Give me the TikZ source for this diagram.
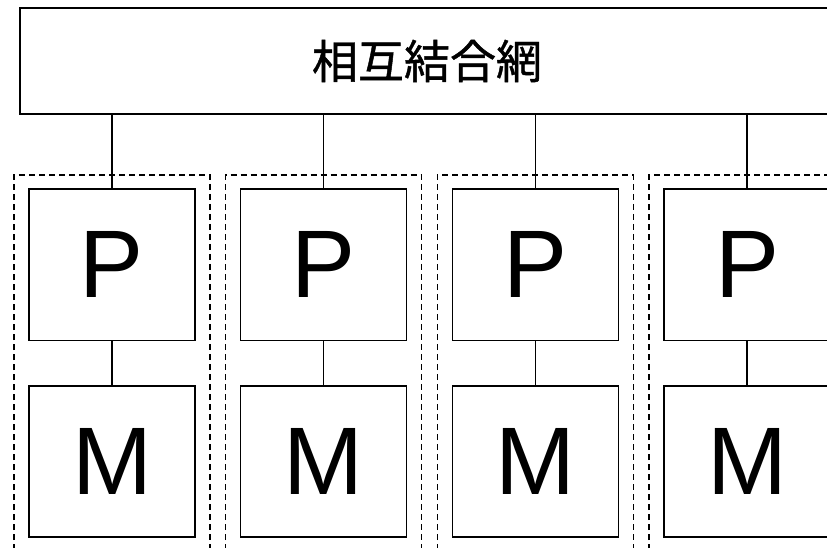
\documentclass[tikz,border=0pt]{standalone}
\usepackage{fontspec}
\setmainfont{Liberation Sans}
\newfontfamily\cjk[FakeBold=1]{Noto Sans CJK JP}
\begin{document}
\begin{tikzpicture}[x=1pt,y=-1pt,
  pmbox/.style={draw, line width=1.5pt, minimum width=166pt, minimum height=151pt, inner sep=0pt, font=\fontsize{96}{96}\selectfont},
  netbox/.style={draw, line width=2pt, minimum width=814pt, minimum height=106pt, inner sep=0pt, font=\cjk\fontsize{46}{46}\selectfont},
  group/.style={draw, dash pattern=on 6pt off 4pt, line width=1.5pt},
  link/.style={line width=1.3pt}]
\useasboundingbox (0,0) rectangle (827,548);
\clip (0,0) rectangle (827,548);
\node[netbox] (net) at (427,61) {相互結合網};
\foreach \i in {0,...,3} {
  \pgfmathsetmacro\cx{112+211.7*\i}
  \draw[group] (\cx-98,600) -- (\cx-98,175) -- (\cx+98,175) -- (\cx+98,600);
  \node[pmbox] (p\i) at (\cx,264.75) {P};
  \node[pmbox] (m\i) at (\cx,461.5) {M};
  \draw[link] (net.south -| p\i) -- (p\i.north);
  \draw[link] (p\i) -- (m\i);
}
\end{tikzpicture}
\end{document}
